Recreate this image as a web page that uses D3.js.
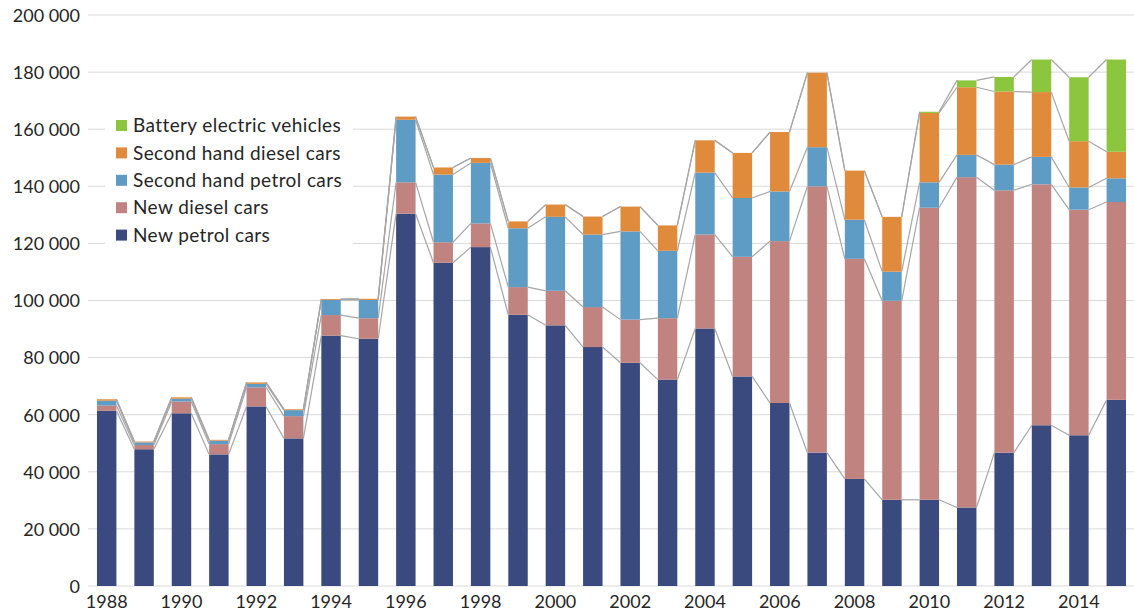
<!DOCTYPE html>
<html>
<head>
<meta charset="utf-8">
<script src="https://cdn.jsdelivr.net/npm/d3@7"></script>
<style>
  html, body { margin: 0; padding: 0; background: #fff; }
  svg { display: block; }
  text { font-family: Lato, "Open Sans", sans-serif; fill: #262626; }
</style>
</head>
<body>
<svg id="chart" width="1134" height="615"></svg>
<script>
const years = [1988,1989,1990,1991,1992,1993,1994,1995,1996,1997,1998,1999,2000,2001,2002,2003,2004,2005,2006,2007,2008,2009,2010,2011,2012,2013,2014,2015];
const newPetrol   = [61400,47900,60500,46100,62900,51700,87700,86600,130400,113200,118700,95000,91300,83700,78200,72300,90200,73400,64100,46700,37500,30200,30200,27500,46700,56300,52800,65200];
const newDiesel   = [1800,1500,4100,3600,6700,7800,7200,7200,11000,7200,8300,9700,12100,14000,15100,21500,32900,41900,56700,93300,77100,69700,102300,115700,91900,84400,79000,69300];
const shPetrol    = [1700,900,1000,1200,1200,2100,5300,6400,21900,23700,21200,20600,25900,25400,30900,23600,21700,20600,17400,13700,13700,10200,8900,7800,9000,9600,7800,8300];
const shDiesel    = [500,300,500,300,500,300,300,400,1100,2500,1700,2400,4300,6300,8700,8900,11300,15800,20800,26100,17200,19200,24300,23700,25600,22700,16200,9300];
const bev         = [0,0,0,0,0,0,0,0,0,0,0,0,0,0,0,0,0,0,0,0,0,0,400,2400,5100,11400,22400,32300];
const seriesNames = ["New petrol cars","New diesel cars","Second hand petrol cars","Second hand diesel cars","Battery electric vehicles"];
const seriesColors = ["#3a4a7e","#c0837f","#5f9cc5","#e08a3c","#8cc63f"];
const yTicks = [0,20000,40000,60000,80000,100000,120000,140000,160000,180000,200000];
const xTickYears = [1988,1990,1992,1994,1996,1998,2000,2002,2004,2006,2008,2010,2012,2014];

const svg = d3.select("#chart");
const keys = ["p","d","sp","sd","b"];
const table = years.map((y,i) => ({year:y, p:newPetrol[i], d:newDiesel[i], sp:shPetrol[i], sd:shDiesel[i], b:bev[i]}));
const stacked = d3.stack().keys(keys)(table);

const x = d3.scaleBand().domain(years).range([88,1135]).paddingInner(0.48).paddingOuter(0.24);
const y = d3.scaleLinear().domain([0,200000]).range([586,15]);
const fmt = v => d3.format(",")(v).replace(/,/g, " ");

// gridlines
svg.append("g").selectAll("line").data(yTicks).join("line")
  .attr("x1", 88).attr("x2", 1134)
  .attr("y1", d => y(d)).attr("y2", d => y(d))
  .attr("stroke", "#d9d9d9").attr("stroke-width", 1);

// y labels
const yAxis = d3.axisLeft(y).tickValues(yTicks).tickFormat(fmt).tickSize(0).tickPadding(0);
const gy = svg.append("g").attr("transform", "translate(80,0)").call(yAxis);
gy.select(".domain").remove();
gy.selectAll("text").style("font-size","18px").style("font-family","Lato, sans-serif").attr("fill","#262626").attr("dy","0.35em");

// bars
const bw = x.bandwidth();
svg.append("g").selectAll("g").data(stacked).join("g")
  .attr("fill", (d,i) => seriesColors[i])
  .selectAll("rect").data(d => d).join("rect")
  .attr("x", d => x(d.data.year))
  .attr("y", d => y(d[1]))
  .attr("width", bw)
  .attr("height", d => Math.max(0, y(d[0]) - y(d[1])));

// series lines
const segs = [];
stacked.forEach(layer => {
  for (let i = 0; i < layer.length - 1; i++) {
    segs.push({x1: x(years[i]) + bw, y1: y(layer[i][1]), x2: x(years[i+1]), y2: y(layer[i+1][1])});
  }
});
svg.append("g").selectAll("line").data(segs).join("line")
  .attr("x1", d => d.x1).attr("y1", d => d.y1).attr("x2", d => d.x2).attr("y2", d => d.y2)
  .attr("stroke", "#a6a6a6").attr("stroke-width", 1.2);

// x labels
const xAxis = d3.axisBottom(x).tickValues(xTickYears).tickSize(0).tickPadding(0);
const gx = svg.append("g").attr("transform", "translate(0,595)").call(xAxis);
gx.select(".domain").remove();
gx.selectAll("text").style("font-size","18px").style("font-family","Lato, sans-serif").attr("fill","#262626").attr("dy","0.71em");

// legend
const legendOrder = [4,3,2,1,0];
const lg = svg.append("g");
lg.append("rect").attr("x",105).attr("y",110).attr("width",248).attr("height",140).attr("fill","#fff");
legendOrder.forEach((si, r) => {
  const cy = 125.5 + r * 27.4;
  lg.append("rect").attr("x",116).attr("y",cy-5.5).attr("width",11).attr("height",11).attr("fill",seriesColors[si]);
  lg.append("text").attr("x",133).attr("y",cy).attr("dy","0.35em")
    .style("font-size","19px").style("letter-spacing","0.4px").text(seriesNames[si]);
});
</script>
</body>
</html>
